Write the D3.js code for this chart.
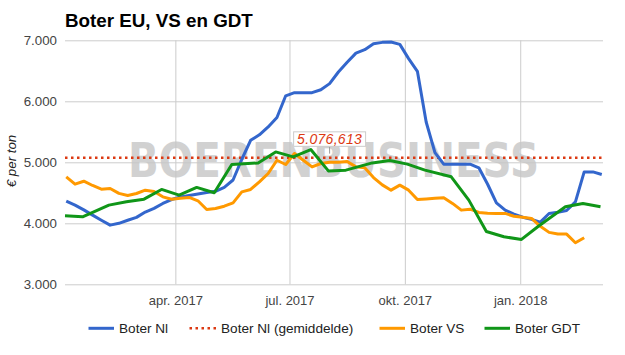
<!DOCTYPE html>
<html><head><meta charset="utf-8">
<script src="https://cdn.jsdelivr.net/npm/d3@7"></script>
<style>body{margin:0;background:#fff}svg{display:block}</style>
</head><body>
<svg id="c" width="625" height="355"></svg>
<script>
// ---- data ----
const title = "Boter EU, VS en GDT";
const yLabel = "€ per ton";
const seriesNames = ["Boter Nl", "Boter Nl (gemiddelde)", "Boter VS", "Boter GDT"];
const seriesColors = ["#3366cc", "#dc3912", "#ff9900", "#109618"];
const weekStart = "2017-01-04"; // weekly quotations (Nl, VS)
const boterNl = [4363,4298,4220,4134,4050,3970,4000,4050,4097,4185,
  4245,4325,4390,4430,4455,4480,4506,4525,4590,4710,
  5050,5360,5450,5580,5735,6090,6142,6142,6142,6190,
  6290,6480,6640,6790,6846,6945,6966,6971,6933,6700,
  6491,5661,5160,4969,4969,4969,4969,4910,4640,4335,
  4216,4150,4100,4064,4020,4160,4180,4210,4350,4843,
  4843,4800];
const boterVS = [4761,4641,4690,4620,4560,4571,4490,4457,4489,4543,
  4522,4434,4395,4410,4424,4369,4227,4243,4280,4335,
  4516,4555,4679,4817,5034,4964,5144,5034,4925,4980,
  5000,5000,5013,4925,4909,4750,4630,4543,4625,4543,
  4390,4400,4410,4420,4326,4216,4232,4178,4165,4162,
  4162,4115,4100,4080,3950,3851,3823,3823,3681,3763,
  null,null];
const gdtDates = ["2017-01-03","2017-01-17","2017-02-07","2017-02-21","2017-03-07","2017-03-21",
  "2017-04-04","2017-04-18","2017-05-02","2017-05-16","2017-06-06","2017-06-20",
  "2017-07-04","2017-07-18","2017-08-01","2017-08-15","2017-09-05","2017-09-19",
  "2017-10-03","2017-10-17","2017-11-07","2017-11-21","2017-12-05","2017-12-19",
  "2018-01-02","2018-01-16","2018-02-06","2018-02-20","2018-03-06"];
const boterGDT = [4123,4107,4298,4352,4396,4555,4462,4588,4500,4964,4990,5170,
  5088,5209,4859,4871,4990,5030,4970,4871,4762,4380,3865,3779,3736,3960,4270,4326,4270];
const average = 5076.613;
const averageLabelDate = "2017-08-02";
const xDomain = ["2017-01-03", "2018-03-08"];
const xTickDates = ["2017-04-01","2017-07-01","2017-10-01","2018-01-01"];
const xTickLabels = ["apr. 2017","jul. 2017","okt. 2017","jan. 2018"];
const yTicks = [3000,4000,5000,6000,7000];
const watermark = "BOERENBUSINESS";

// ---- drawing ----
const parse = d3.timeParse("%Y-%m-%d");
const nl = d3.formatLocale({decimal: ",", thousands: ".", grouping: [3], currency: ["€", ""]});
const svg = d3.select("#c");
const font = "'Liberation Sans', Arial, sans-serif";
const L = 65, R = 603, T = 40.3, B = 284.3;

const x = d3.scaleTime().domain(xDomain.map(parse)).range([L, R]);
const y = d3.scaleLinear().domain([3000, 7000]).range([B, T]);

const start = parse(weekStart);
const weekDates = boterNl.map((_, i) => d3.timeDay.offset(start, 7 * i));

// title
svg.append("text").attr("x", 65).attr("y", 26.5).text(title)
  .attr("font-family", font).attr("font-weight", "bold").attr("font-size", 18.8).attr("fill", "#000");

// y grid + labels
const yAxis = svg.append("g").attr("transform", `translate(${L},0)`)
  .call(d3.axisLeft(y).tickValues(yTicks).tickSize(-(R - L)).tickPadding(8).tickFormat(nl.format(",d")));
yAxis.select(".domain").remove();
yAxis.selectAll("line").attr("stroke", "#cccccc");
yAxis.selectAll("text").attr("font-family", font).attr("font-size", 13.3).attr("fill", "#444");

// x grid + labels
const xAxis = svg.append("g").attr("transform", `translate(0,${B})`)
  .call(d3.axisBottom(x).tickValues(xTickDates.map(parse)).tickSize(-(B - T)).tickPadding(11)
    .tickFormat((d, i) => xTickLabels[i]));
xAxis.select(".domain").remove();
xAxis.selectAll("line").attr("stroke", "#cccccc");
xAxis.selectAll("text").attr("font-family", font).attr("font-size", 13).attr("fill", "#444");

// y label
svg.append("text").attr("transform", "translate(16,161) rotate(-90)").attr("text-anchor", "middle")
  .attr("font-family", font).attr("font-style", "italic").attr("font-size", 13.3).attr("fill", "#222").text(yLabel);

// watermark
svg.append("text").attr("x", 128).attr("y", 177).text(watermark)
  .attr("font-family", "'DejaVu Sans', sans-serif").attr("font-weight", "bold").attr("font-size", 48)
  .attr("textLength", 411).attr("lengthAdjust", "spacingAndGlyphs")
  .attr("fill", "#c6c6c6").attr("opacity", 0.8);

// average dotted line
svg.append("line").attr("x1", L).attr("x2", R).attr("y1", y(average)).attr("y2", y(average))
  .attr("stroke", seriesColors[1]).attr("stroke-width", 2.5).attr("stroke-dasharray", "2.5,3.5");

// lines
const line = d3.line().defined(d => d[1] != null).x(d => x(d[0])).y(d => y(d[1]));
const draw = (pts, color) => svg.append("path").datum(pts).attr("d", line)
  .attr("fill", "none").attr("stroke", color).attr("stroke-width", 3)
  .attr("stroke-linejoin", "round").attr("stroke-linecap", "butt");
draw(weekDates.map((d, i) => [d, boterNl[i]]), seriesColors[0]);
draw(weekDates.map((d, i) => [d, boterVS[i]]), seriesColors[2]);
draw(gdtDates.map((d, i) => [parse(d), boterGDT[i]]), seriesColors[3]);

// average annotation
const ax = x(parse(averageLabelDate)), ay = y(average);
svg.append("line").attr("x1", ax).attr("x2", ax).attr("y1", ay - 11).attr("y2", ay - 4)
  .attr("stroke", "#999").attr("stroke-width", 1);
const lbl = svg.append("g");
const lt = lbl.append("text").attr("x", ax).attr("y", ay - 13.5).attr("text-anchor", "middle")
  .attr("font-family", font).attr("font-style", "italic").attr("font-size", 14)
  .attr("fill", seriesColors[1]).attr("letter-spacing", 0.3).text(nl.format(",.3f")(average));
const bb = lt.node().getBBox();
lbl.insert("rect", "text").attr("x", bb.x - 3.5).attr("y", ay - 25.8).attr("width", bb.width + 7).attr("height", 14.5)
  .attr("fill", "#fff").attr("stroke", "#cccccc").attr("stroke-width", 1);

// legend
const legX = [88.5, 189.5, 379.5, 484.5];
const leg = svg.append("g");
seriesNames.forEach((n, i) => {
  const g = leg.append("g").attr("transform", `translate(${legX[i]},328.3)`);
  const ln = g.append("line").attr("x1", 0).attr("x2", 25.5).attr("y1", 0).attr("y2", 0)
    .attr("stroke", seriesColors[i]).attr("stroke-width", 3);
  if (i === 1) ln.attr("stroke-width", 2.5).attr("stroke-dasharray", "2.5,3.5").attr("x2", 28);
  g.append("text").attr("x", i === 1 ? 31.5 : 30.5).attr("y", 5).text(n)
    .attr("font-family", font).attr("font-size", 13.6).attr("fill", "#222");
});
</script>
</body></html>
